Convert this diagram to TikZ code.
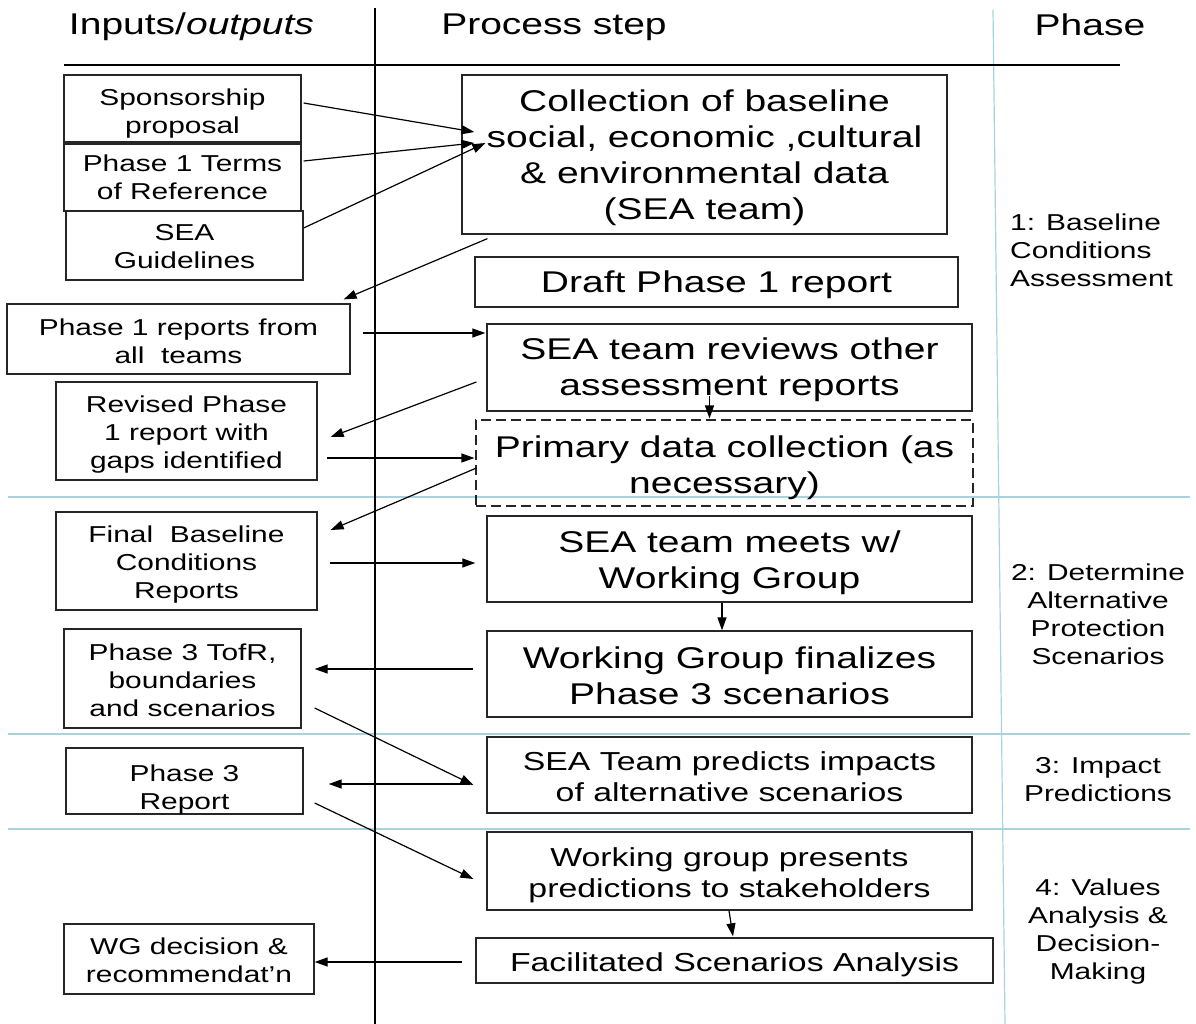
\documentclass[tikz,border=0pt]{standalone}
\usepackage{fontspec}
\setmainfont{Liberation Sans}[FakeStretch=1.3]
\usetikzlibrary{arrows.meta}
\definecolor{sepcyan}{RGB}{165,212,222}
\newcommand\dnrule[1]{\rule{0pt}{#1pt}}
\tikzset{
  box/.style={draw=black!85, line width=1.3pt, inner sep=0pt, align=center, fill=white},
  small/.style={font=\fontsize{23}{28}\selectfont},
  big/.style={font=\fontsize{30}{36}\selectfont},
  mid/.style={font=\fontsize{26}{31}\selectfont},
  arr/.style={-{Triangle[length=13pt,width=9pt]}, line width=1.2pt, black},
  phase/.style={font=\fontsize{23}{28}\selectfont, align=center, inner sep=0pt},
  head/.style={font=\fontsize{30}{36}\selectfont, anchor=base, inner sep=0pt}
}
\begin{document}
\begin{tikzpicture}[x=1pt,y=-1pt]
\useasboundingbox (0,0) rectangle (1196,1024);
% separators
\coordinate (cv1) at (993,10);
\coordinate (cv2) at (1005,1024);
\draw[sepcyan, line width=1.2pt] (cv1) -- (cv2);
\draw[sepcyan, line width=1.2pt] (8,497) -- (1190,497);
\draw[sepcyan, line width=1.2pt] (8,734) -- (1190,734);
\draw[sepcyan, line width=1.2pt] (8,829) -- (1190,829);
\draw[black, line width=1.2pt] (375,8) -- (375,1024);
\draw[black, line width=1.2pt] (64,65) -- (1120,65);
% headers
\node[head] (h1) at (191.5,35) {Inputs/\textit{outputs}};
\node[head] (h2) at (554,35) {Process step};
\node[head] (h3) at (1090,36) {Phase};
% left boxes
\node[box, small, minimum width=237pt, minimum height=67pt] (spons) at (182.5,108.5) {\dnrule{27}Sponsorship\\proposal};
\node[box, small, minimum width=237pt, minimum height=67pt] (tor) at (182.5,177.5) {Phase 1 Terms\\of Reference};
\node[box, small, minimum width=237pt, minimum height=69pt] (guide) at (184.5,245.5) {\dnrule{19}SEA\\Guidelines};
\node[box, small, minimum width=343pt, minimum height=70pt] (rep1) at (178.5,339) {\dnrule{21}Phase 1 reports from\\all\ \ teams};
\node[box, small, minimum width=261pt, minimum height=98pt] (revised) at (186.5,431) {\dnrule{24}Revised Phase\\1 report with\\gaps identified};
\node[box, small, minimum width=261pt, minimum height=98pt] (final) at (186.5,561) {\dnrule{24}Final\ \ Baseline\\Conditions\\Reports};
\node[box, small, minimum width=237pt, minimum height=99pt] (tofr) at (182.5,678.5) {\dnrule{21}Phase 3 TofR,\\boundaries\\and scenarios};
\node[box, small, minimum width=237pt, minimum height=64pt] (rep3) at (184.5,781) {\dnrule{33}Phase 3\\Report};
\node[box, small, minimum width=250pt, minimum height=70pt] (wg) at (189,959) {\dnrule{19}WG decision \&\\recommendat'n};
% process boxes
\node[box, big, minimum width=485pt, minimum height=159pt] (coll) at (704.5,154.5) {\dnrule{29}Collection of baseline\\social, economic ,cultural\\\& environmental data\\(SEA team)};
\node[box, big, minimum width=483pt, minimum height=50pt] (draft) at (716.5,282) {\dnrule{28}Draft Phase 1 report};
\node[box, big, minimum width=485pt, minimum height=87pt] (rev) at (729.5,367.5) {\dnrule{27}SEA team reviews other\\assessment reports};
\node[box, big, dashed, dash pattern=on 10pt off 5pt, line width=1.1pt, minimum width=497pt, minimum height=86pt, fill=none] (prim) at (724.5,463) {\dnrule{31}Primary data collection (as\\necessary)};
\node[box, big, minimum width=485pt, minimum height=86pt] (meets) at (729.5,559) {\dnrule{30}SEA team meets w/\\Working Group};
\node[box, big, minimum width=485pt, minimum height=86pt] (fin) at (729.5,674) {\dnrule{25}Working Group finalizes\\Phase 3 scenarios};
\node[box, mid, minimum width=485pt, minimum height=76pt] (pred) at (729.5,775) {\dnrule{22}SEA Team predicts impacts\\of alternative scenarios};
\node[box, mid, minimum width=485pt, minimum height=78pt] (pres) at (729.5,871) {\dnrule{27}Working group presents\\predictions to stakeholders};
\node[box, mid, minimum width=517pt, minimum height=45pt] (fac) at (734.5,960.5) {\dnrule{27}Facilitated Scenarios Analysis};
% phase labels
\node[phase, align=left, anchor=north west] (p1) at (1010,214) {1: Baseline\\Conditions\\Assessment};
\node[phase] (p2) at (1098,614) {2: Determine\\Alternative\\Protection\\Scenarios};
\node[phase] (p3) at (1098,779.5) {3: Impact\\Predictions};
\node[phase] (p4) at (1098,931.5) {4: Values\\Analysis \&\\Decision-\\Making};
% connectors
\draw[arr] ([shift={(2,-5.5)}]spons.east) -- ([shift={(13,-22.5)}]coll.west);
\draw[arr] ([shift={(2,-16.5)}]tor.east) -- ([shift={(13,-11.5)}]coll.west);
\draw[arr] ([shift={(0,-17.5)}]guide.east) -- ([shift={(24,-11.5)}]coll.west);
\draw[arr] ([shift={(26,4)}]coll.south west) -- ([shift={(-7,-4)}]rep1.north east);
\draw[arr] ([shift={(12,-6)}]rep1.east) -- ([shift={(-1,-34.5)}]rev.west);
\draw[arr] ([shift={(-10,14.5)}]rev.west) -- ([shift={(13,6)}]revised.east);
\draw[arr] ([shift={(9,27)}]revised.east) -- ([shift={(-1,-5)}]prim.west);
\draw[arr] ([shift={(-20,-16)}]rev.south) -- ([shift={(-15,-1)}]prim.north);
\draw[arr] ([shift={(1,5)}]prim.west) -- ([shift={(13,-31)}]final.east);
\draw[arr] ([shift={(12,2)}]final.east) -- ([shift={(-11,4)}]meets.west);
\draw[arr] ([shift={(-7.5,0)}]meets.south) -- ([shift={(-7.5,0)}]fin.north);
\draw[arr] ([shift={(-13,-5)}]fin.west) -- ([shift={(13,-9.5)}]tofr.east);
\draw[arr] ([shift={(13,29.5)}]tofr.east) -- ([shift={(-13,10)}]pred.west);
\draw[arr] ([shift={(-16,9)}]pred.west) -- ([shift={(25,3)}]rep3.east);
\draw[arr] ([shift={(11,22)}]rep3.east) -- ([shift={(-13,8)}]pres.west);
\draw[arr] ([shift={(-0.5,0)}]pres.south) -- ([shift={(-1.5,-1)}]fac.north);
\draw[arr] ([shift={(-13,1.5)}]fac.west) -- ([shift={(0,3)}]wg.east);
\end{tikzpicture}
\end{document}
